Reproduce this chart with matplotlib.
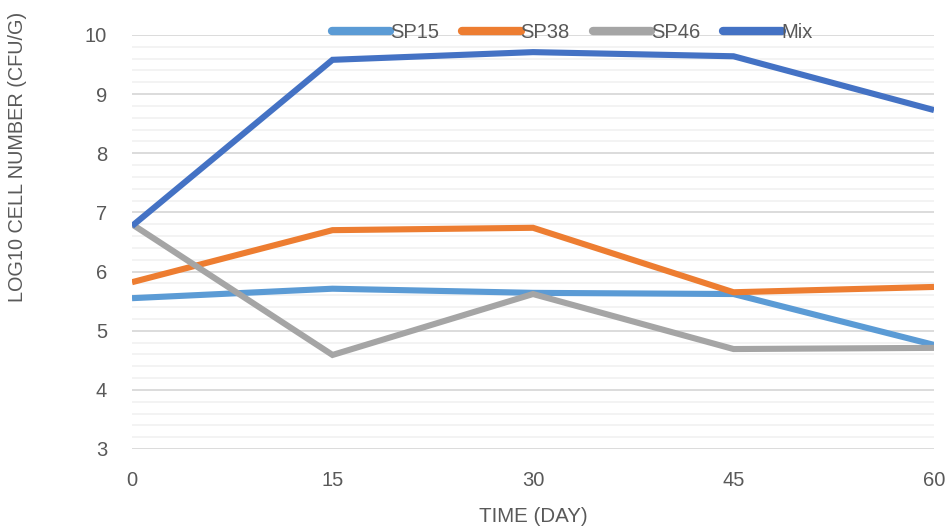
import matplotlib.pyplot as plt
import numpy as np

plt.rcParams['font.family'] = ['Liberation Sans', 'DejaVu Sans']

days = [0, 15, 30, 45, 60]
sp15 = [5.55, 5.71, 5.64, 5.62, 4.76]
sp38 = [5.82, 6.70, 6.74, 5.65, 5.74]
sp46 = [6.80, 4.59, 5.62, 4.69, 4.71]
mix = [6.77, 9.58, 9.71, 9.64, 8.73]

series = [('SP15', sp15, '#5B9BD5'),
          ('SP38', sp38, '#ED7D31'),
          ('SP46', sp46, '#A5A5A5'),
          ('Mix', mix, '#4472C4')]

fig = plt.figure(figsize=(9.47, 5.26), dpi=100)
ax = fig.add_axes([0.1394, 0.1464, 0.8469, 0.7871])

for name, vals, col in series:
    ax.plot(days, vals, color=col, linewidth=4.4, label=name,
            solid_capstyle='butt', solid_joinstyle='miter', zorder=3)

ax.set_xlim(0, 60)
ax.set_ylim(3, 10)
ax.set_xticks(days)
ax.set_yticks(np.arange(3, 11, 1))
ax.set_yticks(np.arange(3, 10.01, 0.2), minor=True)
ax.grid(axis='y', which='major', color='#d9d9d9', linewidth=1.3, zorder=0)
ax.grid(axis='y', which='minor', color='#f2f2f2', linewidth=1.3, zorder=0)
ax.grid(axis='x', visible=False)
for s in ax.spines.values():
    s.set_visible(False)
ax.tick_params(axis='both', which='both', length=0, labelsize=14.5, colors='#595959')
ax.tick_params(axis='x', pad=16)
ax.tick_params(axis='y', pad=18)

ax.set_xlabel('TIME (DAY)', fontsize=14.8, color='#595959', labelpad=12)
ax.set_ylabel('LOG10 CELL NUMBER (CFU/G)', fontsize=14.3, color='#595959')
ax.yaxis.set_label_coords(-0.131, 0.705)

leg = fig.legend(loc='center', bbox_to_anchor=(0.6045, 0.939), ncol=4, frameon=False,
                 fontsize=14.5, handlelength=2.9, handletextpad=0.0, columnspacing=1.14,
                 labelcolor='#595959')
for h in leg.legend_handles:
    h.set_linewidth(6)
    h.set_solid_capstyle('round')

fig.savefig('out.png', dpi=100)
